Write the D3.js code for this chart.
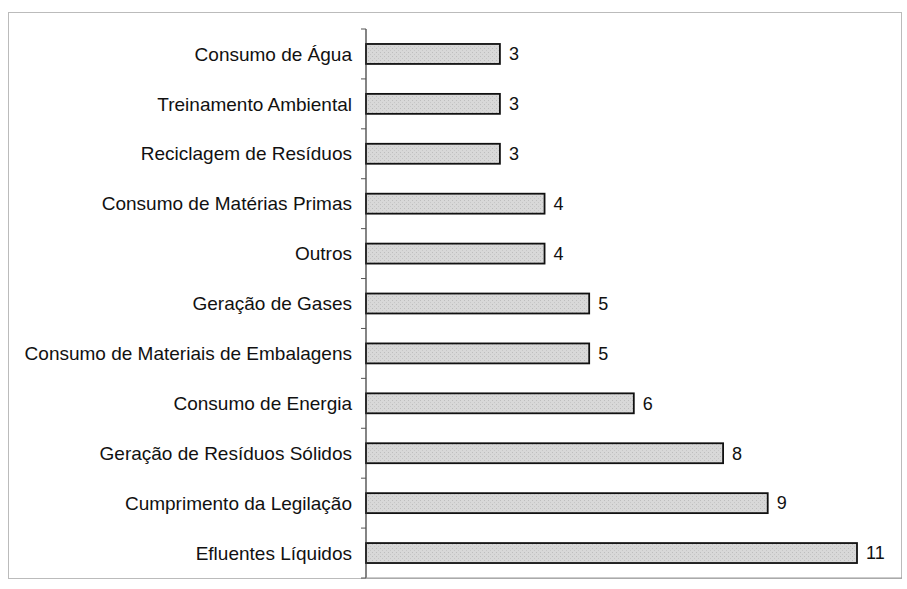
<!DOCTYPE html>
<html><head><meta charset="utf-8">
<script src="https://cdn.jsdelivr.net/npm/d3@7"></script>
<style>body{margin:0;background:#fff;}svg{display:block;}</style>
</head><body><svg id="c" width="907" height="589"></svg>
<script>
const categories = ["Consumo de Água","Treinamento Ambiental","Reciclagem de Resíduos","Consumo de Matérias Primas","Outros","Geração de Gases","Consumo de Materiais de Embalagens","Consumo de Energia","Geração de Resíduos Sólidos","Cumprimento da Legilação","Efluentes Líquidos"];
const values = [3,3,3,4,4,5,5,6,8,9,11];

(function(){
const svg = d3.select("#c");
const pL = 366, pR = 902, pT = 29, pB = 578;
svg.append("rect").attr("x",8.5).attr("y",12.5).attr("width",893).attr("height",566)
  .attr("fill","none").attr("stroke","#bbb").attr("stroke-width",1);

const x = d3.scaleLinear().domain([0,11]).range([pL, pL + 491]);
const y = d3.scaleBand().domain(categories).range([pT, pB]).paddingInner(0.6).paddingOuter(0.3);

const defs = svg.append("defs");
const pat = defs.append("pattern").attr("id","stip").attr("width",4).attr("height",4).attr("patternUnits","userSpaceOnUse");
pat.append("rect").attr("width",4).attr("height",4).attr("fill","#d8d8d8");
pat.append("rect").attr("x",0).attr("y",0).attr("width",1).attr("height",1).attr("fill","#bdbdbd");
pat.append("rect").attr("x",2).attr("y",2).attr("width",1).attr("height",1).attr("fill","#c6c6c6");

svg.selectAll("rect.bar").data(categories).enter().append("rect").attr("class","bar")
  .attr("x", x(0)).attr("y", d => y(d))
  .attr("width", (d,i) => x(values[i]) - x(0)).attr("height", y.bandwidth())
  .attr("fill","url(#stip)").attr("stroke","#111").attr("stroke-width",1.8);

svg.append("line").attr("x1",pL).attr("x2",pL).attr("y1",pT).attr("y2",pB).attr("stroke","#333").attr("stroke-width",1.2);
const bounds = d3.range(categories.length + 1).map(i => pT + i*(pB-pT)/categories.length);
svg.selectAll("line.tk").data(bounds).enter().append("line").attr("class","tk")
  .attr("x1",pL-5).attr("x2",pL).attr("y1",d=>d).attr("y2",d=>d).attr("stroke","#555").attr("stroke-width",1);
svg.append("line").attr("x1",pL).attr("x2",pR).attr("y1",pB).attr("y2",pB).attr("stroke","#999").attr("stroke-width",1);

svg.selectAll("text.cat").data(categories).enter().append("text").attr("class","cat")
  .attr("x", 352).attr("y", d => y(d) + y.bandwidth()/2).attr("dy","0.35em")
  .attr("text-anchor","end").attr("font-family","Liberation Sans, Arial, sans-serif").attr("font-size",19)
  .attr("fill","#111")
  .text(d => d);

svg.selectAll("text.val").data(categories).enter().append("text").attr("class","val")
  .attr("x", (d,i) => x(values[i]) + 9).attr("y", d => y(d) + y.bandwidth()/2).attr("dy","0.35em")
  .attr("font-family","Liberation Sans, Arial, sans-serif").attr("font-size",18).attr("fill","#111")
  .text((d,i) => values[i]);
})();
</script></body></html>
